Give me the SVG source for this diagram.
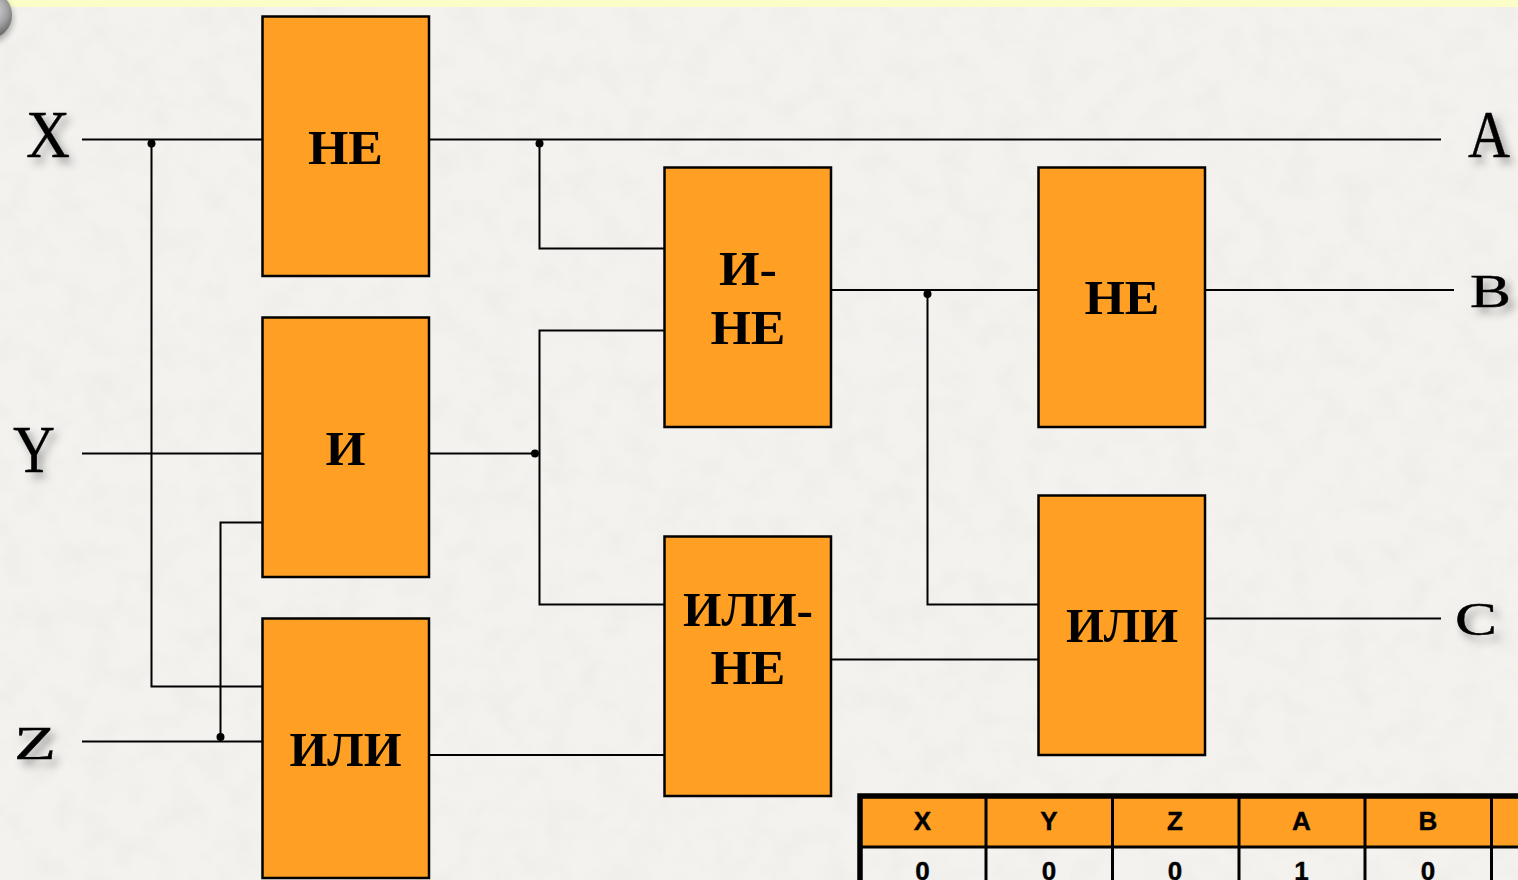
<svg xmlns="http://www.w3.org/2000/svg" width="1518" height="880" viewBox="0 0 1518 880">
<style>
.gate{fill:#ff9f24;stroke:#000;stroke-width:2.5}
.wire{fill:none;stroke:#000;stroke-width:2}
.gt{font-family:"Liberation Serif",serif;font-weight:bold;font-size:48px;fill:#000;text-anchor:middle}
.io{font-family:"Liberation Serif",serif;fill:#000;stroke:#000;stroke-width:0.4;filter:url(#sh)}
.th{font-family:"Liberation Sans",sans-serif;font-weight:bold;font-size:26px;fill:#000;text-anchor:middle;stroke:#000;stroke-width:0.4}
.tl{stroke:#000;stroke-width:3;fill:none}
</style>
<defs>
<filter id="sh" x="-50%" y="-50%" width="200%" height="200%"><feDropShadow dx="5" dy="6" stdDeviation="4" flood-color="#000" flood-opacity="0.35"/></filter>
<filter id="bl" x="-50%" y="-50%" width="200%" height="200%"><feGaussianBlur stdDeviation="3"/></filter>
<filter id="grain" x="0" y="0" width="100%" height="100%"><feTurbulence type="fractalNoise" baseFrequency="0.035" numOctaves="3" seed="7"/><feColorMatrix values="0 0 0 0 0.45  0 0 0 0 0.44  0 0 0 0 0.42  1.2 0 0 0 -0.5"/></filter>
<radialGradient id="ball" cx="0.55" cy="0.4" r="0.6"><stop offset="0" stop-color="#e6e6e6"/><stop offset="0.6" stop-color="#a0a0a0"/><stop offset="1" stop-color="#5a5a5a"/></radialGradient>
</defs>
<rect id="bg" width="1518" height="880" fill="#f3f2ef"/>
<rect id="noise" width="1518" height="880" filter="url(#grain)" opacity="0.12"/>
<rect id="band" width="1518" height="7" fill="#fdfdc8"/>
<circle cx="-11" cy="19" r="24" fill="#000" opacity="0.3" filter="url(#bl)"/>
<circle id="ball-c" cx="-12" cy="15" r="24" fill="url(#ball)"/>

<g id="connectors" class="wire">
<path d="M82 139.500H262"/>
<path d="M151.500 143V686.500H262"/>
<path d="M82 453.500H262"/>
<path d="M82 741.500H262"/>
<path d="M220.500 737V522.500H262"/>
<path d="M429 139.500H1441"/>
<path d="M539.500 143V248.500H664"/>
<path d="M429 453.500H535"/>
<path d="M664 330.500H539.500V604.500H664"/>
<path d="M831 290H1038"/>
<path d="M1205 290H1454"/>
<path d="M927.500 294V604.500H1038"/>
<path d="M831 659.500H1038"/>
<path d="M1205 618.500H1441"/>
<path d="M429 755H664"/>
</g>
<g id="dots" fill="#000">
<circle cx="151.500" cy="143.500" r="4"/>
<circle cx="539.500" cy="143.500" r="4"/>
<circle cx="535" cy="453.500" r="4"/>
<circle cx="927.500" cy="294" r="4"/>
<circle cx="220.500" cy="737" r="4"/>
</g>

<g id="gate-not1"><rect class="gate" x="262.500" y="16.500" width="166.500" height="259.500"/><text class="gt" x="345.500" y="164" textLength="75" lengthAdjust="spacingAndGlyphs">НЕ</text></g>
<g id="gate-and"><rect class="gate" x="262.500" y="317.500" width="166.500" height="259.500"/><text class="gt" x="345.500" y="465" textLength="40" lengthAdjust="spacingAndGlyphs">И</text></g>
<g id="gate-or1"><rect class="gate" x="262.500" y="618.500" width="166.500" height="259.500"/><text class="gt" x="345.500" y="766" textLength="112" lengthAdjust="spacingAndGlyphs">ИЛИ</text></g>
<g id="gate-nand"><rect class="gate" x="664.500" y="167.500" width="166.500" height="259.500"/><text class="gt" x="748" y="285" textLength="58" lengthAdjust="spacingAndGlyphs">И-</text><text class="gt" x="748" y="344" textLength="75" lengthAdjust="spacingAndGlyphs">НЕ</text></g>
<g id="gate-nor"><rect class="gate" x="664.500" y="536.500" width="166.500" height="259.500"/><text class="gt" x="748" y="626" textLength="130" lengthAdjust="spacingAndGlyphs">ИЛИ-</text><text class="gt" x="748" y="684" textLength="75" lengthAdjust="spacingAndGlyphs">НЕ</text></g>
<g id="gate-not2"><rect class="gate" x="1038.500" y="167.500" width="166.500" height="259.500"/><text class="gt" x="1122" y="314" textLength="75" lengthAdjust="spacingAndGlyphs">НЕ</text></g>
<g id="gate-or2"><rect class="gate" x="1038.500" y="495.500" width="166.500" height="259.500"/><text class="gt" x="1122" y="642" textLength="112" lengthAdjust="spacingAndGlyphs">ИЛИ</text></g>

<g id="labels">
<text class="io" x="26" y="156.500" font-size="68" textLength="44" lengthAdjust="spacingAndGlyphs">X</text>
<text class="io" x="13" y="472" font-size="68" textLength="42" lengthAdjust="spacingAndGlyphs">Y</text>
<text class="io" x="14" y="759" font-size="47" textLength="42" lengthAdjust="spacingAndGlyphs">Z</text>
<text class="io" x="1468" y="157" font-size="68" textLength="42" lengthAdjust="spacingAndGlyphs">A</text>
<text class="io" x="1470" y="307" font-size="46" textLength="41" lengthAdjust="spacingAndGlyphs">B</text>
<text class="io" x="1455" y="635" font-size="46" textLength="42" lengthAdjust="spacingAndGlyphs">C</text>
</g>

<g id="table">
<rect x="862" y="798" width="656" height="49" fill="#ff9f24"/>
<path class="tl" d="M986 798V880M1112.500 798V880M1239 798V880M1365 798V880M1491.500 798V880"/>
<path class="tl" d="M860 847H1518"/>
<path d="M860 880V796H1518" fill="none" stroke="#000" stroke-width="5.500"/>
<text class="th" x="922.500" y="830">X</text>
<text class="th" x="1049" y="830">Y</text>
<text class="th" x="1175" y="830">Z</text>
<text class="th" x="1301.500" y="830">A</text>
<text class="th" x="1428" y="830">B</text>
<text class="th" x="922.500" y="880">0</text>
<text class="th" x="1049" y="880">0</text>
<text class="th" x="1175" y="880">0</text>
<text class="th" x="1301.500" y="880">1</text>
<text class="th" x="1428" y="880">0</text>
</g>
</svg>
